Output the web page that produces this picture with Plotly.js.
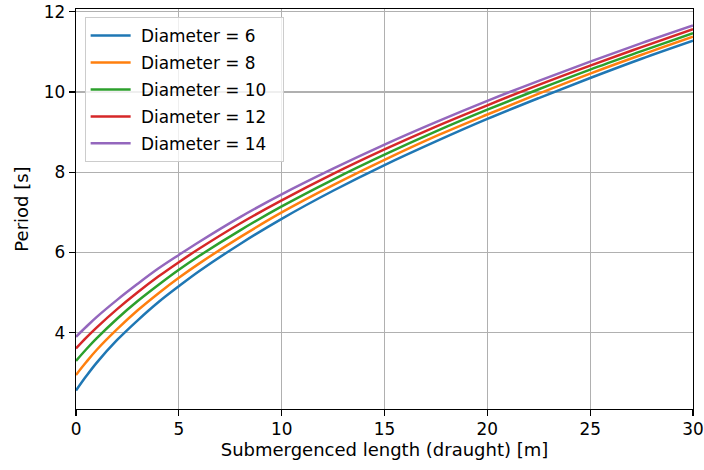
<!DOCTYPE html>
<html>
<head>
<meta charset="utf-8">
<script src="https://cdn.plot.ly/plotly-3.0.1.min.js"></script>
<style>html,body{margin:0;padding:0;background:#fff;}#chart{width:704px;height:470px;}</style>
</head>
<body>
<div id="chart"></div>
<script>
// Submerged length (draught) [m]
var draught = [0, 0.5, 1, 2, 3, 4, 5, 6, 8, 10, 12.5, 15, 17.5, 20, 22.5, 25, 27.5, 30];
var seriesNames = ["Diameter = 6", "Diameter = 8", "Diameter = 10", "Diameter = 12", "Diameter = 14"];
// Period [s]
var periodD6  = [2.56, 2.92, 3.25, 3.82, 4.31, 4.76, 5.16, 5.54, 6.22, 6.84, 7.54, 8.18, 8.77, 9.33, 9.85, 10.35, 10.83, 11.28];
var periodD8  = [2.95, 3.27, 3.57, 4.09, 4.56, 4.98, 5.37, 5.73, 6.39, 7.00, 7.68, 8.31, 8.90, 9.44, 9.96, 10.46, 10.93, 11.38];
var periodD10 = [3.30, 3.59, 3.86, 4.35, 4.79, 5.19, 5.57, 5.92, 6.56, 7.15, 7.82, 8.44, 9.02, 9.56, 10.07, 10.56, 11.02, 11.47];
var periodD12 = [3.61, 3.88, 4.13, 4.59, 5.01, 5.40, 5.76, 6.10, 6.73, 7.30, 7.96, 8.57, 9.14, 9.67, 10.18, 10.66, 11.12, 11.57];
var periodD14 = [3.90, 4.15, 4.39, 4.82, 5.22, 5.60, 5.94, 6.27, 6.89, 7.45, 8.09, 8.69, 9.25, 9.78, 10.28, 10.76, 11.22, 11.66];
var xTicks = [0, 5, 10, 15, 20, 25, 30];
var yTicks = [4, 6, 8, 10, 12];

var allSeries = [periodD6, periodD8, periodD10, periodD12, periodD14];
var colors = ["#1f77b4", "#ff7f0e", "#2ca02c", "#d62728", "#9467bd"];

var traces = allSeries.map(function (ys, i) {
  return {
    x: draught, y: ys, type: "scatter", mode: "lines",
    name: "\u00a0" + seriesNames[i] + "\u00a0\u00a0", legendgroup: "g" + i,
    line: {color: colors[i], width: 2.5, shape: "spline", smoothing: 1.0}
  };
});

var font = {family: "DejaVu Sans, sans-serif", size: 16.9, color: "#000"};
var titleFont = {family: "DejaVu Sans, sans-serif", size: 18, color: "#000"};
var layout = {
  width: 704, height: 470,
  margin: {l: 76, r: 11, t: 9, b: 61, pad: 0},
  paper_bgcolor: "#fff", plot_bgcolor: "#fff",
  font: font,
  showlegend: true,
  legend: {
    x: 0.014, y: 0.98, xanchor: "left", yanchor: "top",
    bgcolor: "rgba(255,255,255,0.8)", bordercolor: "#cccccc", borderwidth: 1,
    font: font, traceorder: "grouped", tracegroupgap: 2, itemwidth: 40
  },
  xaxis: {
    range: [0, 30], tickvals: xTicks, ticktext: xTicks.map(String),
    showgrid: true, gridcolor: "#b0b0b0", gridwidth: 1.3,
    showline: true, linecolor: "#000", linewidth: 1.3, mirror: true,
    ticks: "outside", ticklen: 6, tickwidth: 1.3, tickcolor: "#000",
    zeroline: false, tickfont: font, ticklabelstandoff: -2,
    title: {text: "Submergenced length (draught) [m]", font: titleFont, standoff: 5}
  },
  yaxis: {
    range: [2.10, 12.07], tickvals: yTicks, ticktext: yTicks.map(String),
    showgrid: true, gridcolor: "#b0b0b0", gridwidth: 1.3,
    showline: true, linecolor: "#000", linewidth: 1.3, mirror: true,
    ticks: "outside", ticklen: 6, tickwidth: 1.3, tickcolor: "#000",
    zeroline: false, tickfont: font,
    title: {text: "Period [s]", font: titleFont, standoff: 10}
  }
};
Plotly.newPlot("chart", traces, layout, {displayModeBar: false, staticPlot: true});
</script>
</body>
</html>
